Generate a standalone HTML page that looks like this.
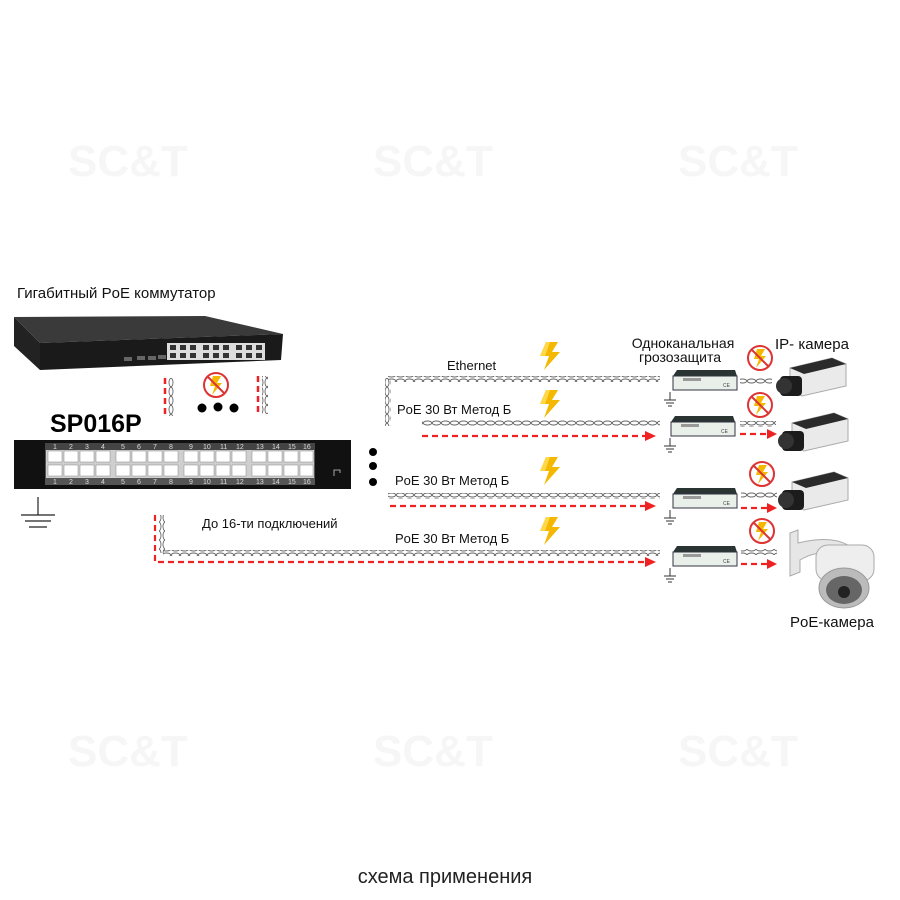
<!DOCTYPE html>
<html><head><meta charset="utf-8"><style>
html,body{margin:0;padding:0;background:#fff;}
svg{display:block;}
text{font-family:"Liberation Sans",Arial,sans-serif;}
</style></head><body>
<svg width="900" height="900" viewBox="0 0 900 900" xmlns="http://www.w3.org/2000/svg">
<defs>
<pattern id="tw" width="9" height="6" patternUnits="userSpaceOnUse">
<ellipse cx="4.5" cy="3" rx="4.2" ry="2" fill="none" stroke="#666" stroke-width="0.9"/>
</pattern>
<pattern id="twv" width="6" height="9" patternUnits="userSpaceOnUse">
<ellipse cx="3" cy="4.5" rx="2" ry="4.2" fill="none" stroke="#666" stroke-width="0.9"/>
</pattern>
<g id="bolt"><polygon points="6,0 18,0 12,10 20,10 4,28 9,14 0,14" fill="#f5b800"/><polygon points="6,0 10,0 5,14 0,14" fill="#ffd84a"/></g>
<g id="nob"><circle cx="0" cy="0" r="12" fill="#fff" stroke="#d33" stroke-width="2"/><polygon points="-3,-9 5,-9 1,-2 6,-2 -4,10 -1,1 -6,1" fill="#f5b800"/><line x1="-8" y1="-8" x2="8" y2="8" stroke="#d33" stroke-width="2"/></g>
<g id="prot"><polygon points="0,6 4,0 62,0 64,6" fill="#2a3432"/><rect x="0" y="6" width="64" height="14" fill="#e9f0ea" stroke="#334" stroke-width="1"/><rect x="10" y="8" width="18" height="3" fill="#999"/><text x="50" y="17" font-size="5" fill="#444">CE</text></g>
<g id="gnd"><line x1="0" y1="0" x2="0" y2="8" stroke="#333" stroke-width="1"/><line x1="-6" y1="8" x2="6" y2="8" stroke="#333"/><line x1="-4" y1="11" x2="4" y2="11" stroke="#333"/><line x1="-2" y1="14" x2="2" y2="14" stroke="#333"/></g>
<g id="cam"><polygon points="10,10 52,0 66,6 66,28 22,38 10,32" fill="#eaeaea" stroke="#aaa"/><polygon points="10,10 52,0 66,6 24,16" fill="#2b2b2b"/><rect x="0" y="18" width="22" height="20" rx="4" fill="#1c1c1c"/><circle cx="4" cy="28" r="8" fill="#333"/></g>
</defs>
<g font-family="Liberation Sans" font-weight="bold" font-size="44" fill="#f6f6f6">
<text x="68" y="176">SC&amp;T</text><text x="373" y="176">SC&amp;T</text><text x="678" y="176">SC&amp;T</text>
<text x="68" y="766">SC&amp;T</text><text x="373" y="766">SC&amp;T</text><text x="678" y="766">SC&amp;T</text>
</g>
<text x="17" y="298" font-size="15" fill="#111">Гигабитный PoE коммутатор</text>
<polygon points="14,317 205,316 283,334 40,343" fill="#3a3a3a"/>
<polygon points="14,317 40,343 40,370 14,346" fill="#222"/>
<polygon points="40,343 283,334 281,360 40,370" fill="#1a1a1a"/>
<rect x="167" y="343" width="98" height="17" fill="#ddd"/>
<g fill="#333"><rect x="170" y="345" width="6" height="5"/><rect x="180" y="345" width="6" height="5"/><rect x="190" y="345" width="6" height="5"/><rect x="203" y="345" width="6" height="5"/><rect x="213" y="345" width="6" height="5"/><rect x="223" y="345" width="6" height="5"/><rect x="236" y="345" width="6" height="5"/><rect x="246" y="345" width="6" height="5"/><rect x="256" y="345" width="6" height="5"/><rect x="170" y="353" width="6" height="5"/><rect x="180" y="353" width="6" height="5"/><rect x="190" y="353" width="6" height="5"/><rect x="203" y="353" width="6" height="5"/><rect x="213" y="353" width="6" height="5"/><rect x="223" y="353" width="6" height="5"/><rect x="236" y="353" width="6" height="5"/><rect x="246" y="353" width="6" height="5"/><rect x="256" y="353" width="6" height="5"/></g>
<g fill="#666"><rect x="124" y="357" width="8" height="4"/><rect x="137" y="356" width="8" height="4"/><rect x="148" y="356" width="8" height="4"/><rect x="158" y="355" width="8" height="4"/></g>
<line x1="165" y1="378" x2="165" y2="417" stroke="#e22" stroke-width="2.5" stroke-dasharray="6,4"/>
<rect x="168" y="378" width="6" height="38" fill="url(#twv)"/>
<line x1="258" y1="376" x2="258" y2="416" stroke="#e22" stroke-width="2.5" stroke-dasharray="6,4"/>
<rect x="262" y="376" width="6" height="38" fill="url(#twv)"/>
<use href="#nob" x="216" y="385"/>
<circle cx="202" cy="408" r="4.5" fill="#000"/><circle cx="218" cy="407" r="4.5" fill="#000"/><circle cx="234" cy="408" r="4.5" fill="#000"/>
<text x="50" y="432" font-size="25" font-weight="bold" fill="#000">SP016P</text>
<rect x="14" y="440" width="337" height="49" fill="#111"/>
<rect x="45" y="444" width="270" height="41" fill="#555"/>
<rect x="46" y="450" width="268" height="28" fill="#cfcfcf"/>
<g fill="#fff" stroke="#888" stroke-width="0.5">
<rect x="48" y="451" width="14" height="11"/><rect x="64" y="451" width="14" height="11"/><rect x="80" y="451" width="14" height="11"/><rect x="96" y="451" width="14" height="11"/>
<rect x="116" y="451" width="14" height="11"/><rect x="132" y="451" width="14" height="11"/><rect x="148" y="451" width="14" height="11"/><rect x="164" y="451" width="14" height="11"/>
<rect x="184" y="451" width="14" height="11"/><rect x="200" y="451" width="14" height="11"/><rect x="216" y="451" width="14" height="11"/><rect x="232" y="451" width="14" height="11"/>
<rect x="252" y="451" width="14" height="11"/><rect x="268" y="451" width="14" height="11"/><rect x="284" y="451" width="14" height="11"/><rect x="300" y="451" width="13" height="11"/>
<rect x="48" y="465" width="14" height="11"/><rect x="64" y="465" width="14" height="11"/><rect x="80" y="465" width="14" height="11"/><rect x="96" y="465" width="14" height="11"/>
<rect x="116" y="465" width="14" height="11"/><rect x="132" y="465" width="14" height="11"/><rect x="148" y="465" width="14" height="11"/><rect x="164" y="465" width="14" height="11"/>
<rect x="184" y="465" width="14" height="11"/><rect x="200" y="465" width="14" height="11"/><rect x="216" y="465" width="14" height="11"/><rect x="232" y="465" width="14" height="11"/>
<rect x="252" y="465" width="14" height="11"/><rect x="268" y="465" width="14" height="11"/><rect x="284" y="465" width="14" height="11"/><rect x="300" y="465" width="13" height="11"/>
</g>
<g fill="#ddd" font-size="7" font-family="Liberation Serif">
<text x="53" y="484">1</text><text x="69" y="484">2</text><text x="85" y="484">3</text><text x="101" y="484">4</text><text x="121" y="484">5</text><text x="137" y="484">6</text><text x="153" y="484">7</text><text x="169" y="484">8</text><text x="189" y="484">9</text><text x="203" y="484">10</text><text x="220" y="484">11</text><text x="236" y="484">12</text><text x="256" y="484">13</text><text x="272" y="484">14</text><text x="288" y="484">15</text><text x="303" y="484">16</text>
</g>
<rect x="45" y="443" width="270" height="7" fill="#444"/>
<g fill="#ddd" font-size="7" font-family="Liberation Serif"><text x="53" y="449">1</text><text x="69" y="449">2</text><text x="85" y="449">3</text><text x="101" y="449">4</text><text x="121" y="449">5</text><text x="137" y="449">6</text><text x="153" y="449">7</text><text x="169" y="449">8</text><text x="189" y="449">9</text><text x="203" y="449">10</text><text x="220" y="449">11</text><text x="236" y="449">12</text><text x="256" y="449">13</text><text x="272" y="449">14</text><text x="288" y="449">15</text><text x="303" y="449">16</text></g>
<path d="M334,476 v-6 h6 v3" fill="none" stroke="#ccc" stroke-width="0.8"/>
<g transform="translate(38,497)"><line x1="0" y1="0" x2="0" y2="18" stroke="#222" stroke-width="1.2"/><line x1="-17" y1="18" x2="17" y2="18" stroke="#222" stroke-width="1.2"/><line x1="-13" y1="24" x2="13" y2="24" stroke="#222" stroke-width="1.2"/><line x1="-9" y1="30" x2="9" y2="30" stroke="#222" stroke-width="1.2"/></g>
<circle cx="373" cy="452" r="4" fill="#000"/><circle cx="373" cy="466" r="4" fill="#000"/><circle cx="373" cy="482" r="4" fill="#000"/>
<rect x="388" y="376" width="272" height="6" fill="url(#tw)"/>
<rect x="385" y="378" width="6" height="48" fill="url(#twv)"/>
<text x="447" y="370" font-size="13" fill="#111">Ethernet</text>
<text x="397" y="414" font-size="13" fill="#111">PoE 30 Вт Метод Б</text>
<rect x="422" y="420" width="238" height="6" fill="url(#tw)"/>
<line x1="422" y1="436" x2="645" y2="436" stroke="#e22" stroke-width="2.2" stroke-dasharray="6,4"/>
<polygon points="645,431 656,436 645,441" fill="#e22"/>
<text x="395" y="485" font-size="13" fill="#111">PoE 30 Вт Метод Б</text>
<rect x="388" y="493" width="272" height="6" fill="url(#tw)"/>
<line x1="390" y1="506" x2="645" y2="506" stroke="#e22" stroke-width="2.2" stroke-dasharray="6,4"/>
<polygon points="645,501 656,506 645,511" fill="#e22"/>
<text x="395" y="543" font-size="13" fill="#111">PoE 30 Вт Метод Б</text>
<text x="202" y="528" font-size="13" fill="#111">До 16-ти подключений</text>
<rect x="163" y="550" width="497" height="6" fill="url(#tw)"/>
<rect x="159" y="515" width="6" height="38" fill="url(#twv)"/>
<path d="M155,515 V562 H645" fill="none" stroke="#e22" stroke-width="2.2" stroke-dasharray="6,4"/>
<polygon points="645,557 656,562 645,567" fill="#e22"/>
<use href="#bolt" x="540" y="342"/><use href="#bolt" x="540" y="390"/><use href="#bolt" x="540" y="457"/><use href="#bolt" x="540" y="517"/>
<text x="683" y="348" font-size="14" fill="#111" text-anchor="middle">Одноканальная</text>
<text x="680" y="362" font-size="14" fill="#111" text-anchor="middle">грозозащита</text>
<use href="#prot" x="673" y="370"/><use href="#gnd" x="670" y="392"/>
<use href="#prot" x="671" y="416"/><use href="#gnd" x="670" y="438"/>
<use href="#prot" x="673" y="488"/><use href="#gnd" x="670" y="510"/>
<use href="#prot" x="673" y="546"/><use href="#gnd" x="670" y="568"/>
<rect x="740" y="378" width="32" height="6" fill="url(#tw)"/>
<rect x="740" y="421" width="36" height="6" fill="url(#tw)"/>
<rect x="741" y="492" width="36" height="6" fill="url(#tw)"/>
<rect x="741" y="549" width="36" height="6" fill="url(#tw)"/>
<line x1="740" y1="434" x2="767" y2="434" stroke="#e22" stroke-width="2.2" stroke-dasharray="6,4"/><polygon points="767,429 777,434 767,439" fill="#e22"/>
<line x1="741" y1="508" x2="767" y2="508" stroke="#e22" stroke-width="2.2" stroke-dasharray="6,4"/><polygon points="767,503 777,508 767,513" fill="#e22"/>
<line x1="741" y1="564" x2="767" y2="564" stroke="#e22" stroke-width="2.2" stroke-dasharray="6,4"/><polygon points="767,559 777,564 767,569" fill="#e22"/>
<use href="#nob" x="760" y="358"/><use href="#nob" x="760" y="405"/><use href="#nob" x="762" y="474"/><use href="#nob" x="762" y="531"/>
<text x="775" y="349" font-size="15" fill="#111">IP- камера</text>
<use href="#cam" x="780" y="358"/><use href="#cam" x="782" y="413"/><use href="#cam" x="782" y="472"/>
<path d="M790,533 L798,530 L798,543 Q830,535 848,545 L848,555 Q820,548 800,560 L800,572 L790,576 Z" fill="#e6e6e6" stroke="#aaa"/>
<rect x="816" y="545" width="58" height="36" rx="12" fill="#eee" stroke="#aaa"/>
<ellipse cx="844" cy="588" rx="25" ry="20" fill="#bbb" stroke="#999"/>
<ellipse cx="844" cy="590" rx="18" ry="14" fill="#666"/>
<circle cx="844" cy="592" r="6" fill="#222"/>
<text x="790" y="627" font-size="15" fill="#111">PoE-камера</text>
<text x="445" y="883" font-size="20" fill="#222" text-anchor="middle">схема применения</text>
</svg>
</body></html>
